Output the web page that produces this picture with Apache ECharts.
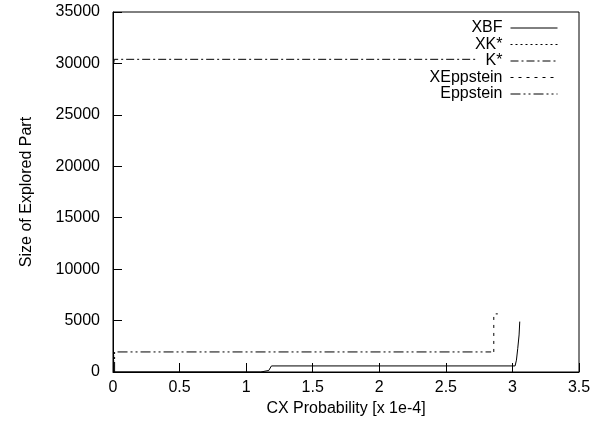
<!DOCTYPE html>
<html>
<head>
<meta charset="utf-8">
<script src="https://cdn.jsdelivr.net/npm/echarts@6/dist/echarts.min.js"></script>
<style>
  html, body { margin: 0; padding: 0; background: #fff; }
  #chart { width: 607px; height: 426px; }
</style>
</head>
<body>
<div id="chart"></div>
<script>
  // 数据 [x (1e-4), size]
  const seriesNames = ['XBF', 'XK*', 'K*', 'XEppstein', 'Eppstein']
  const xbf = [[0, 0], [1.11, 0], [1.17, 150], [1.19, 590], [3.02, 590], [3.03, 1150], [3.04, 2300], [3.05, 3600], [3.055, 4900]]
  const xks = [[0.005, 0], [0.005, 1700]]
  const ks = [[0.005, 30000], [0.01, 30400], [2.73, 30400]]
  const xepp = [[2.86, 1950], [2.86, 5650], [2.89, 5650]]
  const epp = [[0.012, 0], [0.012, 1950], [2.84, 1950]]
  const xTicks = [0, 0.5, 1, 1.5, 2, 2.5, 3, 3.5]
  const yTicks = [0, 5000, 10000, 15000, 20000, 25000, 30000, 35000]

  const dashes = {
    XBF: 'solid',
    'XK*': [2, 3],
    'K*': [8, 3, 2, 3],
    XEppstein: [3, 5],
    Eppstein: [10, 3, 2, 3, 2, 3]
  }
  const dataMap = { XBF: xbf, 'XK*': xks, 'K*': ks, XEppstein: xepp, Eppstein: epp }

  const font = 'Liberation Sans'
  const myChart = echarts.init(document.getElementById('chart'))

  const series = seriesNames.map((name) => ({
    name: name,
    type: 'line',
    data: dataMap[name],
    symbol: 'none',
    animation: false,
    lineStyle: { color: '#000', width: 1, type: dashes[name] },
    itemStyle: { color: '#000' }
  }))

  // 图例：文字在左，线样在右
  const legends = seriesNames.map((name, i) => ({
    data: [name],
    right: 49,
    top: 20 + i * 16.5,
    align: 'right',
    itemWidth: 47,
    itemHeight: 10,
    padding: 0,
    selectedMode: false,
    itemStyle: { opacity: 0 },
    lineStyle: { width: 1, color: '#000' },
    textStyle: { fontFamily: font, fontSize: 16, color: '#000', padding: [0, 3, 0, 0] }
  }))

  const option = {
    animation: false,
    grid: {
      left: 113,
      right: 28,
      top: 12,
      bottom: 54,
      show: true,
      borderColor: '#000',
      borderWidth: 1
    },
    legend: legends,
    xAxis: {
      type: 'value',
      min: xTicks[0],
      max: xTicks[xTicks.length - 1],
      interval: 0.5,
      name: 'CX Probability [x 1e-4]',
      nameLocation: 'middle',
      nameGap: 28,
      nameTextStyle: { fontFamily: font, fontSize: 16, color: '#000' },
      axisLine: { lineStyle: { color: '#000' } },
      axisTick: { inside: true, length: 9, lineStyle: { color: '#000' } },
      axisLabel: { fontFamily: font, fontSize: 16, color: '#000', margin: 8 },
      splitLine: { show: false }
    },
    yAxis: {
      type: 'value',
      min: yTicks[0],
      max: yTicks[yTicks.length - 1],
      interval: 5000,
      name: 'Size of Explored Part',
      nameLocation: 'middle',
      nameGap: 78,
      nameTextStyle: { fontFamily: font, fontSize: 16, color: '#000' },
      axisLine: { show: true, lineStyle: { color: '#000' } },
      axisTick: { show: true, inside: true, length: 9, lineStyle: { color: '#000' } },
      axisLabel: {
        fontFamily: font,
        fontSize: 16,
        color: '#000',
        margin: 13,
        formatter: (v) => String(v)
      },
      splitLine: { show: false }
    },
    series: series
  }

  myChart.setOption(option)
</script>
</body>
</html>
